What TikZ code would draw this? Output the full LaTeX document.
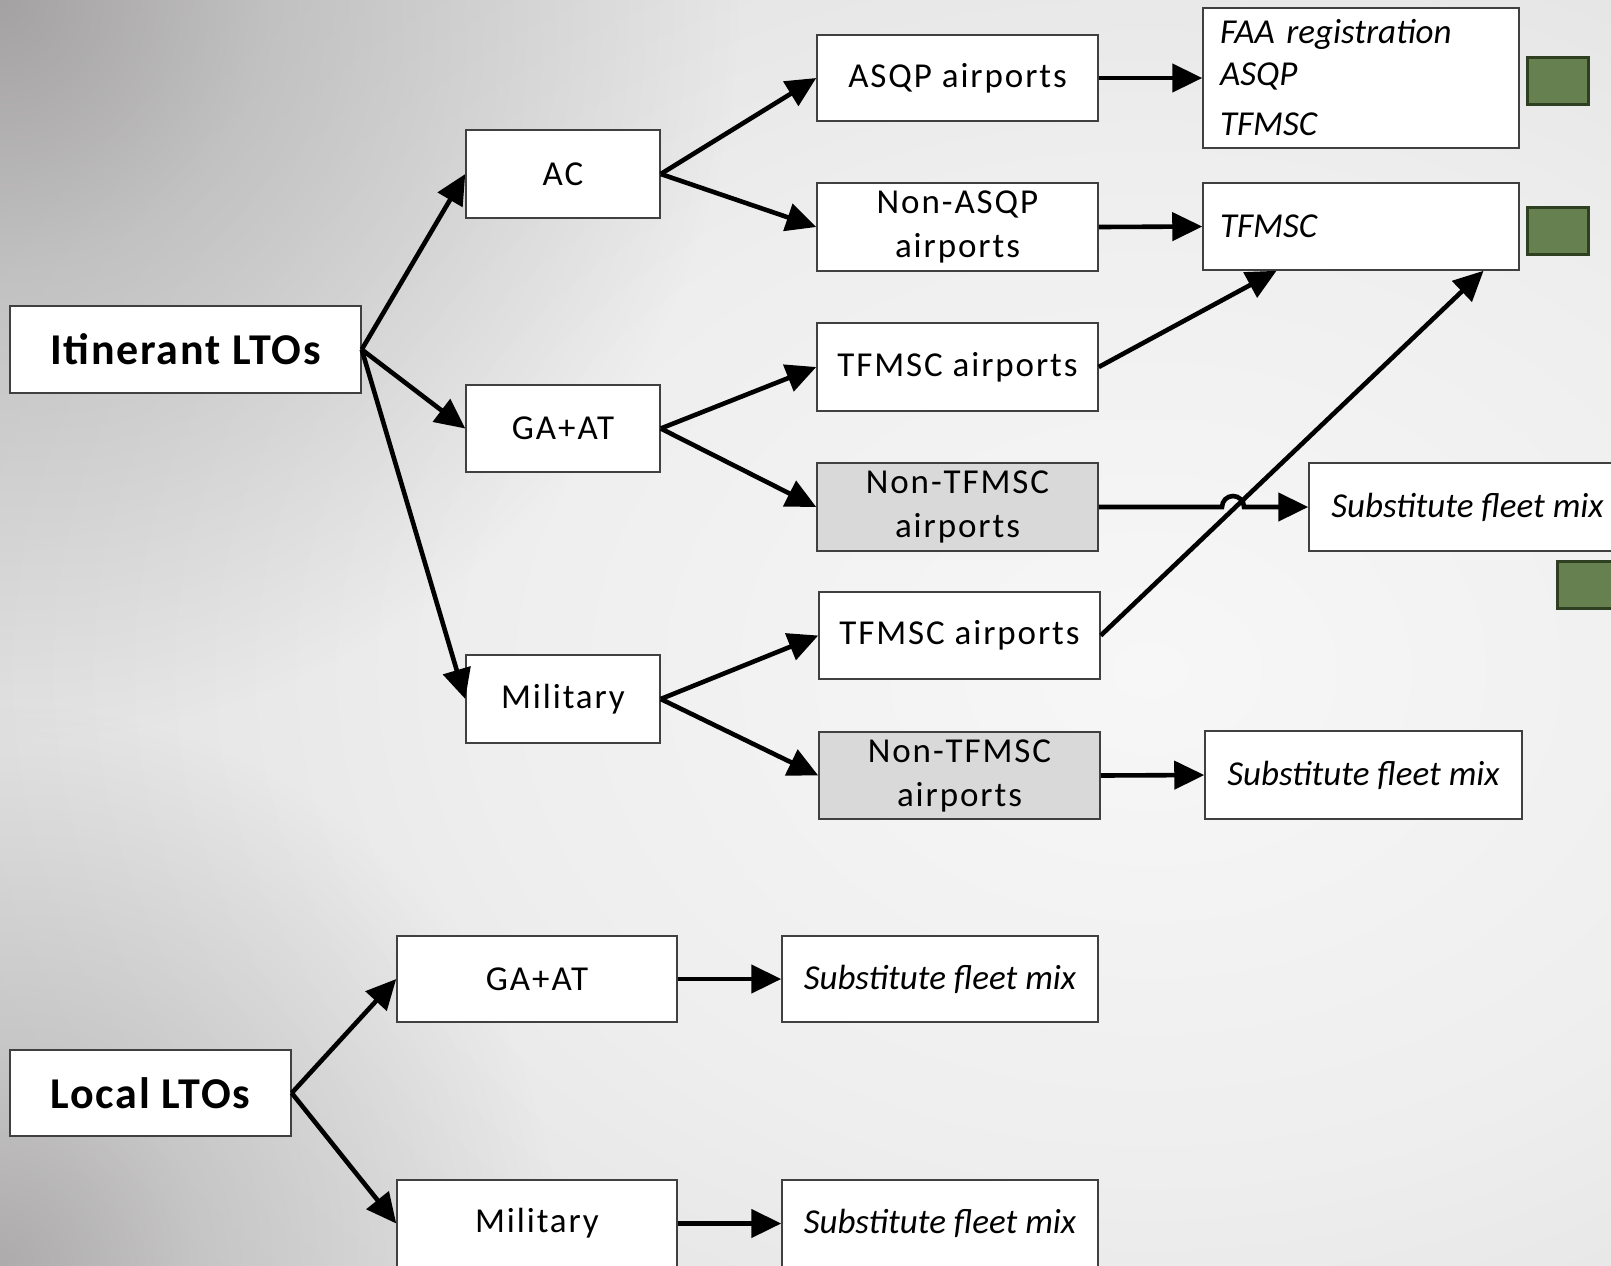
\documentclass[tikz,border=0pt]{standalone}
\usepackage{fontspec}
\setmainfont{Carlito}
\usetikzlibrary{arrows.meta,calc,fadings}
\definecolor{bgA}{HTML}{F7F7F7}
\definecolor{bgB}{HTML}{EEEEEE}
\definecolor{bgD}{HTML}{DCDCDC}
\definecolor{cornerTL}{HTML}{A4A2A3}
\definecolor{cornerBL}{HTML}{ADABAC}
\definecolor{boxgrey}{HTML}{D9D9D9}
\definecolor{gfill}{HTML}{678050}
\definecolor{gline}{HTML}{2F3F22}
\pgfdeclareradialshading{bgshade}{\pgfpointorigin}{color(0bp)=(bgA); color(12bp)=(bgB); color(25bp)=(bgD); color(50bp)=(bgD)}
\pgfdeclareradialshading{cornershade}{\pgfpointorigin}{color(0bp)=(pgftransparent!0); color(9bp)=(pgftransparent!50); color(25bp)=(pgftransparent!100); color(50bp)=(pgftransparent!100)}
\pgfdeclarefading{cornerfade}{\pgfuseshading{cornershade}}
\tikzset{
  box/.style={draw=black!75, line width=0.75pt, fill=white, inner sep=0pt, align=center,
    font=\fontsize{17.5}{22}\selectfont\addfontfeatures{LetterSpace=5.5}},
  greybox/.style={box, fill=boxgrey},
  bigbox/.style={box, font=\fontsize{22}{26}\selectfont\bfseries\addfontfeatures{LetterSpace=4}},
  itbox/.style={box, font=\fontsize{17.5}{22}\selectfont\itshape},
  srcbox/.style={box, align=left, text width=141pt, font=\fontsize{17.5}{21}\selectfont\itshape},
  arr/.style={line width=2.3pt, -{Triangle[length=15pt,width=14pt]}},
  gsq/.style={draw=gline, fill=gfill, line width=1.5pt, minimum width=30.5pt, minimum height=23.5pt, inner sep=0pt},
}
\begin{document}
\begin{tikzpicture}[x=0.5pt,y=-0.5pt]
\useasboundingbox (0,0) rectangle (1611,1265);
\clip (0,0) rectangle (1611,1265);
\shade[shading=bgshade] (-250,-380) rectangle (2550,1720);
\fill[cornerTL, path fading=cornerfade] (0,0) circle[radius=740];
\fill[cornerBL, path fading=cornerfade] (0,1265) circle[radius=560];

% itinerant tree
\node[bigbox, minimum width=175.5pt, minimum height=43.5pt] (itin) at (185.5,349.5) {Itinerant LTOs};
\node[box, minimum width=97pt, minimum height=44pt] (ac) at (563,174) {AC};
\node[box, minimum width=97pt, minimum height=43.5pt] (gaat) at (563,428.5) {GA+AT};
\node[box, minimum width=97pt, minimum height=44pt] (mil) at (563,699) {Military};

\node[box, minimum width=140.5pt, minimum height=43pt] (asqp) at (957.5,78) {ASQP airports};
\node[box, minimum width=140.5pt, minimum height=44pt] (nasqp) at (957.5,227) {Non-ASQP\\airports};
\node[box, minimum width=140.5pt, minimum height=44pt] (tf1) at (957.5,367) {TFMSC airports};
\node[greybox, minimum width=140.5pt, minimum height=44pt] (ntf1) at (957.5,507) {Non-TFMSC\\airports};
\node[box, minimum width=140.5pt, minimum height=43.5pt] (tf2) at (959.5,635.5) {TFMSC airports};
\node[greybox, minimum width=140.5pt, minimum height=43.5pt] (ntf2) at (959.5,775.5) {Non-TFMSC\\airports};

\node[srcbox, minimum width=158pt, minimum height=70pt] (faa) at (1361,78) {FAA registration\\ASQP\\[4pt]TFMSC};
\node[srcbox, minimum width=158pt, minimum height=43.5pt] (tfb) at (1361,226.5) {TFMSC};
\node[itbox, minimum width=158.5pt, minimum height=44pt] (sub1) at (1467.5,507) {Substitute fleet mix};
\node[itbox, minimum width=158.5pt, minimum height=44pt] (sub2) at (1363.5,775) {Substitute fleet mix};

\node[gsq] (g1) at (1558,81) {};
\node[gsq] (g2) at (1558,231) {};
\node[gsq] (g3) at (1588,584.5) {};

% local tree
\node[bigbox, minimum width=140.5pt, minimum height=43pt] (lloc) at (150.5,1093) {Local LTOs};
\node[box, minimum width=140pt, minimum height=43pt] (lga) at (537,979) {GA+AT};
\node[box, minimum width=140pt, minimum height=43.5pt] (lmil) at (537,1223.5) {Military};
\node[itbox, minimum width=158pt, minimum height=43pt] (ls1) at (940,979) {Substitute fleet mix};
\node[itbox, minimum width=158pt, minimum height=43.5pt] (ls2) at (940,1223.5) {Substitute fleet mix};

% connectors
\draw[arr] (itin.east) -- (ac.west);
\draw[arr] (itin.east) -- (gaat.west);
\draw[arr] (itin.east) -- (mil.west);
\draw[arr] (ac.east) -- (asqp.west);
\draw[arr] (ac.east) -- (nasqp.west);
\draw[arr] (gaat.east) -- (tf1.west);
\draw[arr] (gaat.east) -- (ntf1.west);
\draw[arr] (mil.east) -- (tf2.west);
\draw[arr] (mil.east) -- (ntf2.west);
\draw[arr] (asqp.east) -- (faa.west);
\draw[arr] (nasqp.east) -- (tfb.west);
\draw[arr] (tf1.east) -- ($(tfb.south west)!0.234!(tfb.south east)$);
\draw[arr] (tf2.east) -- ($(tfb.south west)!0.886!(tfb.south east)$);
\coordinate (hopx) at (1222,0);
\draw[arr] (ntf1.east) -- (ntf1.east -| hopx) arc[start angle=180, end angle=0, radius=5.5pt] -- (sub1.west);
\draw[arr] (ntf2.east) -- (sub2.west);
\draw[arr] (lloc.east) -- (lga.west);
\draw[arr] (lloc.east) -- (lmil.west);
\draw[arr] (lga.east) -- (ls1.west);
\draw[arr] (lmil.east) -- (ls2.west);
\end{tikzpicture}
\end{document}
